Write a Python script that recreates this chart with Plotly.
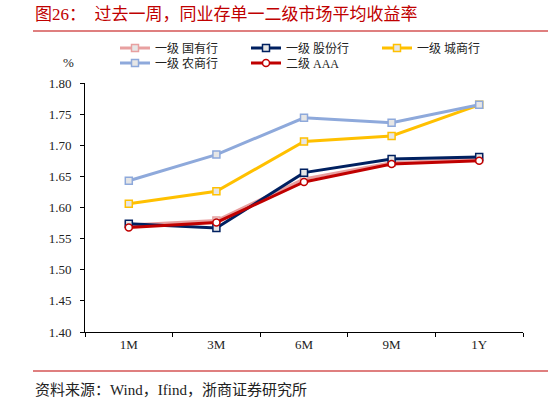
import plotly.graph_objects as go

# 期限
tenors = ["1M", "3M", "6M", "9M", "1Y"]

# 平均收益率 (%)
guoyou = [1.572, 1.579, 1.646, 1.672, 1.678]
gufen = [1.574, 1.567, 1.656, 1.678, 1.681]
chengshang = [1.606, 1.626, 1.706, 1.715, 1.765]
nongshang = [1.643, 1.685, 1.744, 1.736, 1.765]
erji_aaa = [1.568, 1.576, 1.641, 1.670, 1.675]

series = [
    ("一级 国有行", guoyou, "#E8A0A0", "square", "legend"),
    ("一级 股份行", gufen, "#002060", "square", "legend"),
    ("一级 城商行", chengshang, "#FFC000", "square", "legend"),
    ("一级 农商行", nongshang, "#8EA9DB", "square", "legend2"),
    ("二级 AAA", erji_aaa, "#C00000", "circle", "legend2"),
]

SERIF = "Liberation Serif, Noto Sans CJK SC, serif"
RED = "#C00000"

# plot area in pixels: x 85..523, y 83..332
L, R, T, B = 85, 25, 83, 71
W, H = 548, 403
PW, PH = W - L - R, H - T - B


def px_x(px):
    return (px - L) / PW


def px_y(py):
    return (H - B - py) / PH


fig = go.Figure()
for name, vals, color, sym, leg in series:
    fig.add_trace(go.Scatter(
        x=tenors, y=vals, name=name, mode="lines+markers",
        line=dict(color=color, width=3),
        marker=dict(symbol=sym, size=7, color="#E6E6E6" if sym == "square" else "white",
                    line=dict(color=color, width=1.5)),
        legend=leg,
    ))

legend_common = dict(
    orientation="h", xanchor="left", yanchor="middle",
    font=dict(family=SERIF, size=12, color="#222"),
    bgcolor="rgba(0,0,0,0)", entrywidth=86, entrywidthmode="pixels",
    tracegroupgap=0, itemwidth=30,
)

fig.update_layout(
    width=W, height=H,
    margin=dict(l=L, r=R, t=T, b=B, autoexpand=False),
    plot_bgcolor="white", paper_bgcolor="white",
    showlegend=True,
    legend=dict(x=px_x(115), y=px_y(48), **legend_common),
    legend2=dict(x=px_x(115), y=px_y(63), **legend_common),
    xaxis=dict(
        type="category", categoryarray=tenors, range=[-0.5, 4.5],
        showline=True, linecolor="black", linewidth=1,
        ticks="outside", tickson="boundaries", ticklen=4, tickcolor="black",
        showgrid=False, tickfont=dict(family=SERIF, size=13, color="#222"),
    ),
    yaxis=dict(
        range=[1.40, 1.80], dtick=0.05, tickformat=".2f",
        showline=True, linecolor="black", linewidth=1,
        ticks="outside", ticklen=4, tickcolor="black", ticklabelstandoff=6,
        showgrid=False, zeroline=False,
        tickfont=dict(family=SERIF, size=13, color="#222"),
    ),
)

fig.add_annotation(
    text="图26：  过去一周，同业存单一二级市场平均收益率",
    xref="paper", yref="paper", x=px_x(33), y=px_y(15),
    xanchor="left", yanchor="middle", showarrow=False,
    font=dict(family=SERIF, size=17, color=RED),
)
fig.add_annotation(
    text="%", xref="paper", yref="paper", x=px_x(68), y=px_y(62),
    xanchor="center", yanchor="middle", showarrow=False,
    font=dict(family=SERIF, size=13, color="#222"),
)
fig.add_annotation(
    text="资料来源：Wind，Ifind，浙商证券研究所",
    xref="paper", yref="paper", x=px_x(33), y=px_y(390),
    xanchor="left", yanchor="middle", showarrow=False,
    font=dict(family=SERIF, size=15, color="#222"),
)
for yy in (31, 371):
    fig.add_shape(type="line", xref="paper", yref="paper",
                  x0=px_x(33), x1=px_x(548), y0=px_y(yy), y1=px_y(yy),
                  line=dict(color=RED, width=1.2))

fig.write_html("out.html", config={"displayModeBar": False},
               post_script="document.body.style.margin='0';")
